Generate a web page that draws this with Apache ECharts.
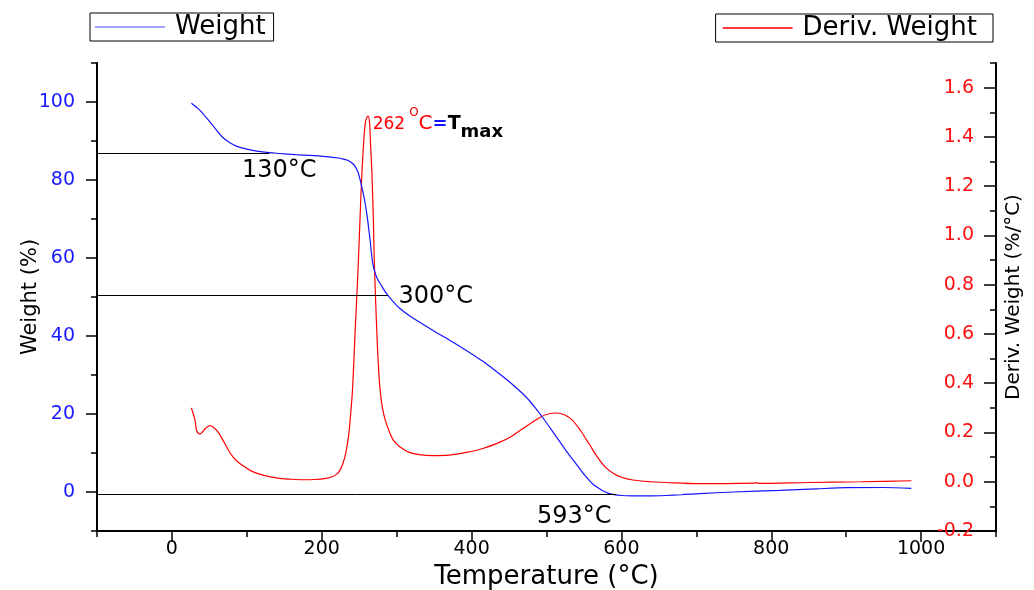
<!DOCTYPE html>
<html>
<head>
<meta charset="utf-8">
<script src="https://cdn.jsdelivr.net/npm/echarts@6/dist/echarts.min.js"></script>
<style>
  html, body { margin: 0; padding: 0; background: #fff; }
  #chart { width: 1034px; height: 590px; }
</style>
</head>
<body>
<div id="chart"></div>
<script>
// TGA weight curve (temperature °C, weight %)
const tempW = [26, 35, 42, 55, 68, 78, 86, 100, 113, 130, 144, 165, 184, 205, 220, 230, 235, 240, 244, 248, 251, 254, 257, 260, 264, 268, 273, 280, 286, 295, 304, 317, 348, 370, 393, 415, 437, 455, 473, 485, 495, 506, 517, 528, 540, 551, 562, 573, 584, 600, 615, 640, 659, 680, 704, 750, 811, 860, 900, 950, 987];
const weight = [99.7, 98.3, 96.9, 93.9, 90.9, 89.5, 88.7, 87.9, 87.4, 87.0, 86.8, 86.5, 86.3, 86.0, 85.7, 85.3, 85.0, 84.4, 83.6, 82.2, 80.2, 77.8, 75.0, 71.5, 65.5, 58.7, 55.2, 52.8, 51.0, 48.9, 47.1, 45.2, 41.5, 39.0, 36.3, 33.5, 30.3, 27.5, 24.3, 21.6, 19.1, 16.1, 13.1, 10.1, 7.1, 4.3, 2.0, 0.6, -0.4, -0.9, -1.0, -1.0, -0.9, -0.7, -0.4, 0.0, 0.4, 0.8, 1.1, 1.15, 0.95];

// DTG curve (temperature °C, derivative weight %/°C)
const tempD = [26, 29, 31, 33, 36, 38, 41, 44, 48, 51, 55, 62, 66, 71, 76, 82, 88, 95, 105, 117, 130, 144, 160, 175, 190, 206, 214, 220, 224, 228, 232, 236, 239, 241, 243, 245, 248, 250, 252, 254, 256, 258, 260, 262, 264, 265, 267, 269, 270, 272, 274, 276, 278, 281, 285, 290, 296, 305, 317, 330, 348, 370, 393, 415, 437, 452, 464, 478, 491, 502, 513, 524, 535, 546, 557, 568, 579, 590, 600, 615, 640, 659, 704, 740, 777, 780, 783, 850, 920, 987];
const deriv = [0.30, 0.27, 0.248, 0.207, 0.195, 0.194, 0.203, 0.214, 0.224, 0.228, 0.222, 0.200, 0.180, 0.153, 0.125, 0.099, 0.080, 0.065, 0.045, 0.031, 0.021, 0.014, 0.010, 0.008, 0.009, 0.014, 0.020, 0.031, 0.045, 0.072, 0.115, 0.19, 0.29, 0.37, 0.50, 0.64, 0.83, 0.98, 1.14, 1.278, 1.38, 1.454, 1.478, 1.484, 1.45, 1.38, 1.25, 1.05, 0.91, 0.73, 0.573, 0.45, 0.37, 0.30, 0.248, 0.205, 0.167, 0.140, 0.119, 0.110, 0.106, 0.108, 0.119, 0.135, 0.160, 0.182, 0.207, 0.235, 0.261, 0.275, 0.279, 0.272, 0.248, 0.205, 0.153, 0.100, 0.058, 0.032, 0.018, 0.007, 0.000, -0.003, -0.008, -0.008, -0.006, -0.004, -0.007, -0.003, 0.000, 0.004];

// Step markers: horizontal guide levels and where they end
const stepLabels = ['130°C', '300°C', '593°C'];
const stepEndTemps = [130, 288, 593];
const stepLevels = [86.8, 50.5, -0.5];

// Peak of the derivative curve
const peakTemp = 262;
const peakDeriv = 1.484;

// Axis tick values
const xMajorTicks = [0, 200, 400, 600, 800, 1000];
const xMinorTicks = [-100, 100, 300, 500, 700, 900, 1100];
const wMajorTicks = [0, 20, 40, 60, 80, 100];
const wMinorTicks = [-10, 10, 30, 50, 70, 90, 110];
const dMajorTicks = [-0.2, 0, 0.2, 0.4, 0.6, 0.8, 1.0, 1.2, 1.4, 1.6];
const dMinorTicks = [-0.1, 0.1, 0.3, 0.5, 0.7, 0.9, 1.1, 1.3, 1.5, 1.7];

const FONT = 'DejaVu Sans';
const BLUE = '#1414ff';
const RED = '#ff0000';

const chart = echarts.init(document.getElementById('chart'), null, { renderer: 'canvas' });

const labelOffsets = [[10, 17], [48, 2], [-42, 23]];

const tickStyle = { color: '#000', width: 1.5 };

const option = {
  animation: false,
  backgroundColor: '#fff',
  grid: { left: 97, right: 38, top: 63, bottom: 59, containLabel: false, outerBoundsMode: 'none' },
  legend: [
    {
      left: 90, top: 13,
      data: [{ name: 'Weight', icon: 'rect', itemStyle: { color: '#8080ff' } }],
      borderColor: '#000', borderWidth: 1, padding: [1, 8, 1, 5],
      itemWidth: 70, itemHeight: 1.5,
      textStyle: { fontFamily: FONT, fontSize: 26, color: '#000', padding: [0, 0, 0, 5] }
    },
    {
      right: 41, top: 14,
      data: [{ name: 'Deriv. Weight', icon: 'rect', itemStyle: { color: RED } }],
      borderColor: '#000', borderWidth: 1, padding: [1, 16, 1, 7],
      itemWidth: 70, itemHeight: 1.5,
      textStyle: { fontFamily: FONT, fontSize: 26, color: '#000', padding: [0, 0, 0, 5] }
    }
  ],
  xAxis: [
    {
      type: 'value', min: -100, max: 1100, position: 'bottom',
      name: 'Temperature (°C)', nameLocation: 'middle', nameGap: 31,
      nameTextStyle: { fontFamily: FONT, fontSize: 26, color: '#000' },
      axisLine: { onZero: false, lineStyle: { color: '#000', width: 2 } },
      axisTick: { customValues: xMajorTicks, length: 11, lineStyle: tickStyle },
      axisLabel: { customValues: xMajorTicks, fontFamily: FONT, fontSize: 19, color: '#000', margin: 9, formatter: v => String(v) },
      splitLine: { show: false }
    },
    {
      type: 'value', min: -100, max: 1100, position: 'bottom',
      axisLine: { show: false, onZero: false },
      axisTick: { customValues: xMinorTicks, length: 6, lineStyle: tickStyle },
      axisLabel: { show: false },
      splitLine: { show: false }
    }
  ],
  yAxis: [
    {
      type: 'value', min: -10, max: 110, position: 'left',
      name: 'Weight (%)', nameLocation: 'middle', nameGap: 56, nameRotate: 90, nameMoveOverlap: false,
      nameTextStyle: { fontFamily: FONT, fontSize: 21, color: '#000' },
      axisLine: { show: true, onZero: false, lineStyle: { color: '#000', width: 2 } },
      axisTick: { customValues: wMajorTicks, length: 11, lineStyle: tickStyle },
      axisLabel: { customValues: wMajorTicks, fontFamily: FONT, fontSize: 19, color: '#1a1aff', margin: 22, formatter: v => String(v) },
      splitLine: { show: false }
    },
    {
      type: 'value', min: -10, max: 110, position: 'left',
      axisLine: { show: false, onZero: false },
      axisTick: { customValues: wMinorTicks, length: 6, lineStyle: tickStyle },
      axisLabel: { show: false },
      splitLine: { show: false }
    },
    {
      type: 'value', min: -0.2, max: 1.7, position: 'right',
      name: 'Deriv. Weight (%/°C)', nameLocation: 'middle', nameGap: 8, nameRotate: 90, nameMoveOverlap: false,
      nameTextStyle: { fontFamily: FONT, fontSize: 20, color: '#000' },
      axisLine: { show: true, onZero: false, lineStyle: { color: '#000', width: 2 } },
      axisTick: { customValues: dMajorTicks, inside: true, length: 12, lineStyle: tickStyle },
      axisLabel: {
        customValues: dMajorTicks, inside: true, margin: 22,
        fontFamily: FONT, fontSize: 19, color: '#ff1010',
        formatter: v => Number(v).toFixed(1)
      },
      splitLine: { show: false }
    },
    {
      type: 'value', min: -0.2, max: 1.7, position: 'right',
      axisLine: { show: false, onZero: false },
      axisTick: { customValues: dMinorTicks, inside: true, length: 6, lineStyle: tickStyle },
      axisLabel: { show: false },
      splitLine: { show: false }
    }
  ],
  series: [
    {
      name: 'Weight', type: 'line', xAxisIndex: 0, yAxisIndex: 0,
      data: tempW.map((t, i) => [t, weight[i]]),
      symbol: 'none', showSymbol: false, smooth: 0.3,
      lineStyle: { color: BLUE, width: 1.2 }, itemStyle: { color: BLUE },
      z: 3,
      markLine: {
        silent: true, symbol: ['none', 'none'],
        lineStyle: { color: '#000', width: 1, type: 'solid' },
        label: { show: false },
        emphasis: { disabled: true },
        data: stepLevels.map((w, i) => [{ coord: [-100, w] }, { coord: [stepEndTemps[i], w] }])
      },
      markPoint: {
        silent: true,
        symbol: 'circle', symbolSize: 1,
        itemStyle: { color: 'transparent' },
        data: stepLabels.map((txt, i) => ({
          coord: [stepEndTemps[i], stepLevels[i]],
          value: txt,
          label: {
            show: true, position: 'inside', offset: labelOffsets[i],
            formatter: txt, fontFamily: FONT, fontSize: 24, color: '#000'
          }
        }))
      }
    },
    {
      name: 'Deriv. Weight', type: 'line', xAxisIndex: 0, yAxisIndex: 2,
      data: tempD.map((t, i) => [t, deriv[i]]),
      symbol: 'none', showSymbol: false, smooth: 0.3,
      lineStyle: { color: RED, width: 1.2 }, itemStyle: { color: RED },
      z: 2,
      markPoint: {
        silent: true,
        symbol: 'circle', symbolSize: 1,
        itemStyle: { color: 'transparent' },
        data: [{
          coord: [peakTemp, peakDeriv],
          label: {
            show: true, position: 'right', distance: 4, offset: [0, 8],
            formatter: '{a|' + peakTemp + '}{b|O}{c|C}{d|=}{e|T}{f|max}',
            rich: {
              a: { fontFamily: FONT, fontSize: 17, color: RED, lineHeight: 34 },
              b: { fontFamily: FONT, fontSize: 12, color: RED, lineHeight: 12, verticalAlign: 'top', padding: [0, 0, 0, 4] },
              c: { fontFamily: FONT, fontSize: 20, color: RED, lineHeight: 34 },
              d: { fontFamily: FONT, fontSize: 18, color: BLUE, fontWeight: 'bold', lineHeight: 34 },
              e: { fontFamily: FONT, fontSize: 19, color: '#000', fontWeight: 'bold', lineHeight: 34 },
              f: { fontFamily: FONT, fontSize: 18, color: '#000', fontWeight: 'bold', lineHeight: 18, verticalAlign: 'bottom' }
            }
          }
        }]
      }
    }
  ]
};

chart.setOption(option);
</script>
</body>
</html>
